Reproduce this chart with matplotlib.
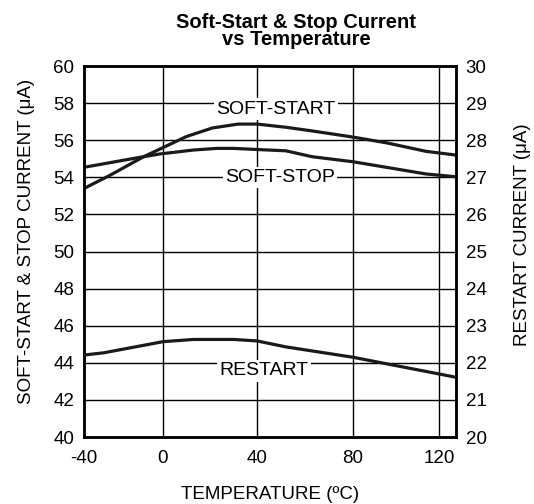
import numpy as np
import matplotlib.pyplot as plt

plt.rcParams['font.family'] = ['Liberation Sans', 'DejaVu Sans']
plt.rcParams['axes.unicode_minus'] = False

# data
temp_start = [-40, -27, -10, 10, 21, 32, 40, 52, 63, 80, 96, 114, 128]
soft_start = [53.4, 54.1, 55.1, 56.2, 56.66, 56.87, 56.87, 56.7, 56.5, 56.17, 55.85, 55.4, 55.2]

temp_stop = [-40, -10, -1.5, 12.8, 23, 30, 40, 52, 63, 80, 98.6, 114, 128]
soft_stop = [54.54, 55.11, 55.26, 55.47, 55.56, 55.56, 55.5, 55.43, 55.11, 54.84, 54.48, 54.18, 54.03]

temp_restart = [-40, -30, -18, 0, 13, 30, 40, 52, 80, 98.6, 120, 128]
restart = [22.21, 22.27, 22.39, 22.57, 22.63, 22.63, 22.59, 22.43, 22.15, 21.94, 21.70, 21.61]

x_ticks = [-40, 0, 40, 80, 120]
left_ticks = list(range(40, 61, 2))
right_ticks = list(range(20, 31))

# the original grid is not evenly spaced, follow it with a piecewise scale
grid_t = [-40, 0, 40, 80, 120, 128]
grid_px = [0, 79, 173, 269, 355, 372]


def fwd(x):
    return np.interp(x, grid_t, grid_px)


def inv(p):
    return np.interp(p, grid_px, grid_t)


fig = plt.figure(figsize=(5.34, 5.04), dpi=100)
ax = fig.add_axes([0.1573, 0.1329, 0.6966, 0.7361])
ax.set_xscale('function', functions=(fwd, inv))
ax2 = ax.twinx()

ax.plot(temp_start, soft_start, color='#1a1a1a', lw=2.3, zorder=3)
ax.plot(temp_stop, soft_stop, color='#1a1a1a', lw=2.3, zorder=3)
ax2.plot(temp_restart, restart, color='#1a1a1a', lw=2.3, zorder=3)

ax.set_xlim(-40, 128)
ax.set_ylim(40, 60)
ax2.set_ylim(20, 30)
ax.set_xticks(x_ticks)
ax.set_yticks(left_ticks)
ax2.set_yticks(right_ticks)

ax.grid(True, color='black', lw=1.0)
ax.tick_params(length=0, pad=7, labelsize=13.5)
ax.tick_params(axis='x', pad=9)
ax2.tick_params(length=0, pad=7, labelsize=13.5)
for a in (ax, ax2):
    for s in a.spines.values():
        s.set_linewidth(1.8)

ax.set_xlabel('TEMPERATURE (ºC)', fontsize=13.5, labelpad=14)
ax.set_ylabel('SOFT-START & STOP CURRENT (μA)', fontsize=13.5, labelpad=13)
ax2.set_ylabel('RESTART CURRENT (μA)', fontsize=13.5, labelpad=20)
ax.yaxis.label.set_y(0.526)
ax2.yaxis.label.set_y(0.545)
ax.set_title('Soft-Start & Stop Current\nvs Temperature', fontsize=14.5,
             fontweight='bold', linespacing=0.9, pad=15, x=0.57)

box = dict(facecolor='white', edgecolor='none', pad=1.5)
ax2.text(48, 28.84, 'SOFT-START', ha='center', va='center', fontsize=14, bbox=box, zorder=4)
ax2.text(49.5, 27.0, 'SOFT-STOP', ha='center', va='center', fontsize=14, bbox=box, zorder=4)
ax2.text(43, 21.78, 'RESTART', ha='center', va='center', fontsize=14, bbox=box, zorder=4)

fig.savefig('out.png', dpi=100)
